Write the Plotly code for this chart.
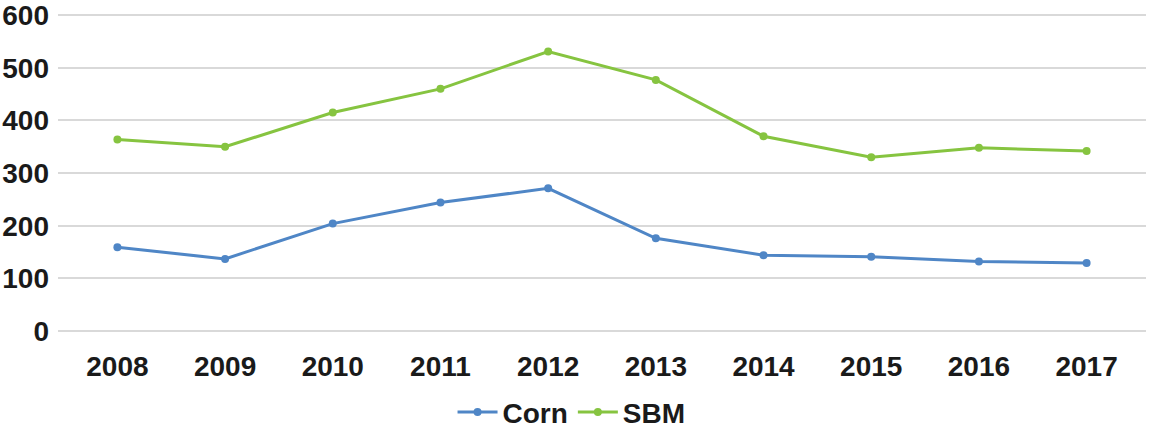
import plotly.graph_objects as go

years = ["2008", "2009", "2010", "2011", "2012", "2013", "2014", "2015", "2016", "2017"]
corn = [159, 137, 204, 244, 271, 176, 144, 141, 132, 129]
sbm = [364, 350, 415, 460, 531, 477, 370, 330, 348, 342]
y_ticks = [0, 100, 200, 300, 400, 500, 600]

FONT = "Liberation Sans, Arial, sans-serif"
BLUE = "#4f86c6"
GREEN = "#86c440"

fig = go.Figure()
fig.add_trace(go.Scatter(x=years, y=corn, name="Corn", mode="lines+markers",
                         line=dict(color=BLUE, width=3),
                         marker=dict(color=BLUE, size=8)))
fig.add_trace(go.Scatter(x=years, y=sbm, name="SBM", mode="lines+markers",
                         line=dict(color=GREEN, width=3),
                         marker=dict(color=GREEN, size=8)))

fig.update_layout(
    width=1152, height=438,
    margin=dict(l=58, r=6, t=12, b=107, autoexpand=False),
    paper_bgcolor="white", plot_bgcolor="white",
    font=dict(family=FONT, size=28, color="#1a1a1a"),
    showlegend=True,
    legend=dict(orientation="h", x=0.472, xanchor="center", y=-0.255, yanchor="middle",
                font=dict(family=FONT, size=28, color="#1a1a1a", weight="bold"),
                itemwidth=40, tracegroupgap=0),
)
fig.update_xaxes(type="category", showgrid=False, showline=False, zeroline=False,
                 tickfont=dict(family=FONT, size=28, weight="bold", color="#1a1a1a"),
                 ticklabelstandoff=16, automargin=False)
fig.update_yaxes(range=[0, 606], tickvals=y_ticks, showgrid=True, gridcolor="#d9d9d9",
                 gridwidth=1.5, zeroline=True, zerolinecolor="#d9d9d9", zerolinewidth=1.5,
                 showline=False, ticklabeloverflow="allow",
                 tickfont=dict(family=FONT, size=28, weight="bold", color="#1a1a1a"),
                 ticklabelstandoff=8, automargin=False)

fig.write_html("out.html")
